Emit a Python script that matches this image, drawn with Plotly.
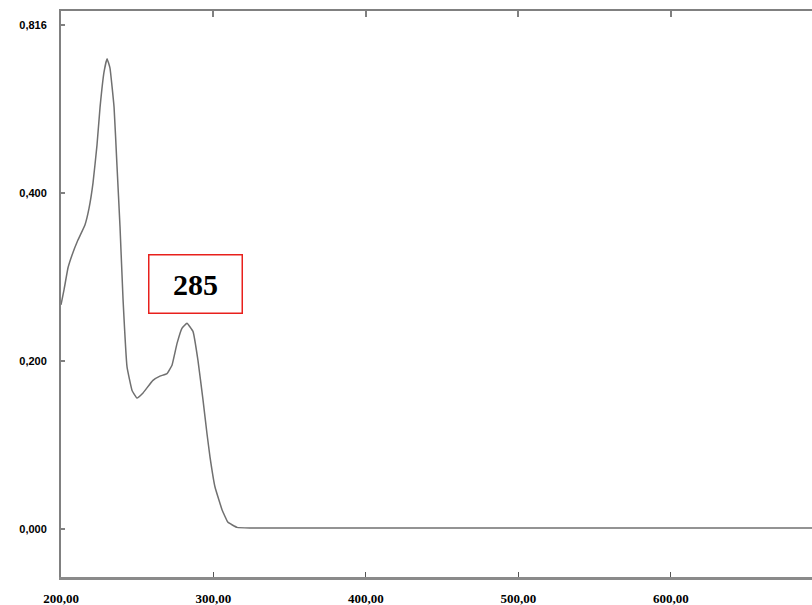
import plotly.graph_objects as go

# Wavelength (nm) and absorbance
wavelength = [200.0, 202.0, 204.6, 207.2, 211.1, 215.7, 218.4, 221.0, 223.6, 225.6,
              228.2, 230.2, 232.1, 234.8, 236.7, 238.7, 240.7, 243.3, 246.6, 249.8,
              253.8, 260.3, 264.9, 269.5, 272.8, 276.1, 279.3, 282.6, 286.6, 289.8,
              293.1, 295.7, 297.7, 301.0, 305.6, 309.5, 315.4, 323.9, 400.0, 500.0,
              600.0, 700.0]
absorbance = [0.267, 0.285, 0.311, 0.326, 0.344, 0.362, 0.382, 0.412, 0.457, 0.502,
              0.544, 0.560, 0.549, 0.502, 0.433, 0.360, 0.273, 0.193, 0.165, 0.156,
              0.162, 0.177, 0.182, 0.185, 0.195, 0.221, 0.239, 0.245, 0.235, 0.201,
              0.154, 0.114, 0.086, 0.050, 0.023, 0.008, 0.002, 0.0012, 0.0012, 0.0012,
              0.0012, 0.0012]

x_tickvals = [200, 300, 400, 500, 600]
x_ticktext = ["200,00", "300,00", "400,00", "500,00", "600,00"]
y_tickvals = [0.0, 0.2, 0.4, 0.6]
y_ticktext = ["0,000", "0,200", "0,400", "0,816"]
peak_label = "285"

axis_gray = "#808080"

fig = go.Figure()
fig.add_trace(go.Scatter(
    x=wavelength, y=absorbance, mode="lines",
    line=dict(color="#707070", width=1.5, shape="spline", smoothing=0.3),
    hoverinfo="skip", showlegend=False,
))
# invisible trace for top axis
fig.add_trace(go.Scatter(x=[200], y=[0], xaxis="x2", mode="markers",
                         marker=dict(opacity=0), showlegend=False, hoverinfo="skip"))

fig.add_annotation(
    x=288, y=0.292, xref="x", yref="y", text=peak_label, showarrow=False,
    font=dict(family="Liberation Serif", size=30, color="black", weight="bold"),
    bordercolor="#e8201c", borderwidth=1.5, width=90, height=55,
    bgcolor="rgba(255,255,255,0)",
)

fig.update_layout(
    width=812, height=605,
    margin=dict(l=61, r=0, t=11, b=28),
    paper_bgcolor="white", plot_bgcolor="white",
    xaxis=dict(
        range=[200, 692.5], showgrid=False, zeroline=False,
        showline=True, linecolor="#8a8a8a", linewidth=3,
        ticks="inside", ticklen=5, tickwidth=1, tickcolor="#555555",
        tickvals=x_tickvals, ticktext=x_ticktext,
        tickfont=dict(family="Liberation Serif", size=13, color="black", weight="bold"),
        ticklabelstandoff=7,
    ),
    xaxis2=dict(
        overlaying="x", matches="x", side="top", showgrid=False, zeroline=False,
        showline=True, linecolor=axis_gray, linewidth=2,
        ticks="inside", ticklen=6, tickwidth=1.5, tickcolor=axis_gray,
        tickvals=x_tickvals[1:], showticklabels=False,
    ),
    yaxis=dict(
        range=[-0.0571, 0.6167], showgrid=False, zeroline=False,
        showline=True, linecolor=axis_gray, linewidth=2,
        ticks="inside", ticklen=4, tickwidth=1.5, tickcolor=axis_gray,
        tickvals=y_tickvals, ticktext=y_ticktext,
        tickfont=dict(family="Liberation Sans", size=11, color="black", weight="bold"),
        ticklabelstandoff=10,
    ),
)

fig.write_html("out.html")
